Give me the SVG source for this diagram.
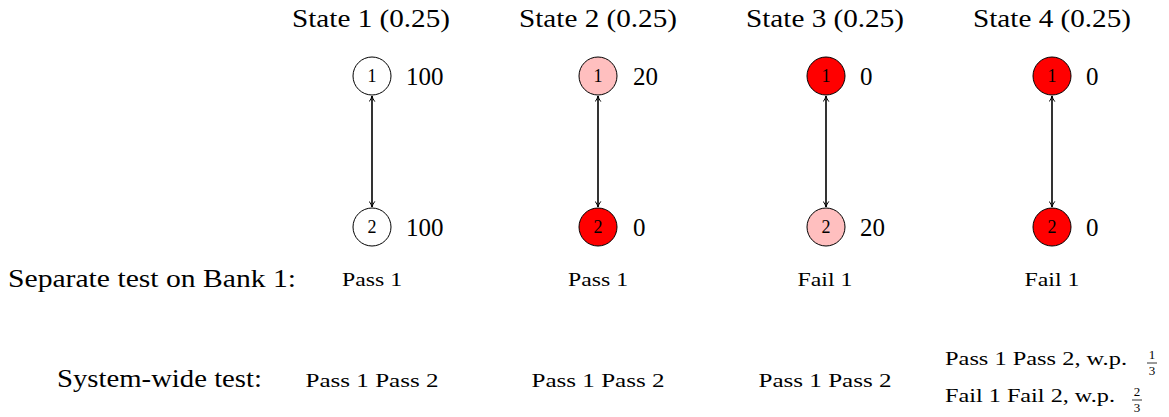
<svg xmlns="http://www.w3.org/2000/svg" width="1169" height="417" viewBox="0 0 1169 417">
<style>
.t{font-size:25px;text-anchor:middle}
.v{font-size:25px}
.s{font-size:19px;text-anchor:middle}
.n{font-size:18px;text-anchor:middle}
.f{font-size:13px;text-anchor:middle}
circle{stroke:#000;stroke-width:1}
.w{fill:#fff}.p{fill:#ffbfbf}.r{fill:#ff0000}
.c{stroke:#000;stroke-width:1.6;fill:none}
</style>
<defs>
<marker id="ah" viewBox="0 0 10 10" refX="9" refY="5" markerWidth="7" markerHeight="7" orient="auto-start-reverse" markerUnits="userSpaceOnUse">
<path d="M1,1 Q5,4 9,5 Q5,6 1,9" fill="none" stroke="#000" stroke-width="1.4"/>
</marker>
</defs>
<g font-family="'Liberation Serif', 'Times New Roman', serif" fill="#000">
<g id="titles">
<text class="t" x="371" y="27" textLength="158" lengthAdjust="spacingAndGlyphs">State 1 (0.25)</text>
<text class="t" x="598" y="27" textLength="158" lengthAdjust="spacingAndGlyphs">State 2 (0.25)</text>
<text class="t" x="825" y="27" textLength="158" lengthAdjust="spacingAndGlyphs">State 3 (0.25)</text>
<text class="t" x="1052" y="27" textLength="158" lengthAdjust="spacingAndGlyphs">State 4 (0.25)</text>
</g>
<g id="connectors">
<line class="c" x1="372" y1="96" x2="372" y2="207" marker-start="url(#ah)" marker-end="url(#ah)"/>
<line class="c" x1="598" y1="96" x2="598" y2="207" marker-start="url(#ah)" marker-end="url(#ah)"/>
<line class="c" x1="826" y1="96" x2="826" y2="207" marker-start="url(#ah)" marker-end="url(#ah)"/>
<line class="c" x1="1052" y1="96" x2="1052" y2="207" marker-start="url(#ah)" marker-end="url(#ah)"/>
</g>
<g id="s1n1"><circle class="w" cx="372" cy="76" r="19"/><text class="n" x="372" y="82">1</text><text class="v" x="406" y="85">100</text></g>
<g id="s1n2"><circle class="w" cx="372" cy="227" r="19"/><text class="n" x="372" y="233">2</text><text class="v" x="406" y="236">100</text></g>
<g id="s2n1"><circle class="p" cx="598" cy="76" r="19"/><text class="n" x="598" y="82">1</text><text class="v" x="633" y="85">20</text></g>
<g id="s2n2"><circle class="r" cx="598" cy="227" r="19"/><text class="n" x="598" y="233">2</text><text class="v" x="633" y="236">0</text></g>
<g id="s3n1"><circle class="r" cx="826" cy="76" r="19"/><text class="n" x="826" y="82">1</text><text class="v" x="860" y="85">0</text></g>
<g id="s3n2"><circle class="p" cx="826" cy="227" r="19"/><text class="n" x="826" y="233">2</text><text class="v" x="860" y="236">20</text></g>
<g id="s4n1"><circle class="r" cx="1052" cy="76" r="19"/><text class="n" x="1052" y="82">1</text><text class="v" x="1086" y="85">0</text></g>
<g id="s4n2"><circle class="r" cx="1052" cy="227" r="19"/><text class="n" x="1052" y="233">2</text><text class="v" x="1086" y="236">0</text></g>
<g id="separate">
<text class="v" x="8" y="287" textLength="288" lengthAdjust="spacingAndGlyphs">Separate test on Bank 1:</text>
<text class="s" x="372" y="286" textLength="60" lengthAdjust="spacingAndGlyphs">Pass 1</text>
<text class="s" x="598" y="286" textLength="60" lengthAdjust="spacingAndGlyphs">Pass 1</text>
<text class="s" x="825" y="286" textLength="55" lengthAdjust="spacingAndGlyphs">Fail 1</text>
<text class="s" x="1052" y="286" textLength="55" lengthAdjust="spacingAndGlyphs">Fail 1</text>
</g>
<g id="system">
<text class="v" x="57" y="387" textLength="205" lengthAdjust="spacingAndGlyphs">System-wide test:</text>
<text class="s" x="372" y="387" textLength="133" lengthAdjust="spacingAndGlyphs">Pass 1 Pass 2</text>
<text class="s" x="598" y="387" textLength="133" lengthAdjust="spacingAndGlyphs">Pass 1 Pass 2</text>
<text class="s" x="825" y="387" textLength="133" lengthAdjust="spacingAndGlyphs">Pass 1 Pass 2</text>
<text style="font-size:19px" x="945" y="365" textLength="182" lengthAdjust="spacingAndGlyphs">Pass 1 Pass 2, w.p.</text>
<text class="f" x="1152" y="359">1</text>
<line x1="1147" y1="363" x2="1157" y2="363" stroke="#000" stroke-width="0.8"/>
<text class="f" x="1152" y="375">3</text>
<text style="font-size:19px" x="945" y="402" textLength="170" lengthAdjust="spacingAndGlyphs">Fail 1 Fail 2, w.p.</text>
<text class="f" x="1137" y="396">2</text>
<line x1="1132" y1="400" x2="1142" y2="400" stroke="#000" stroke-width="0.8"/>
<text class="f" x="1137" y="412">3</text>
</g>
</g>
</svg>
